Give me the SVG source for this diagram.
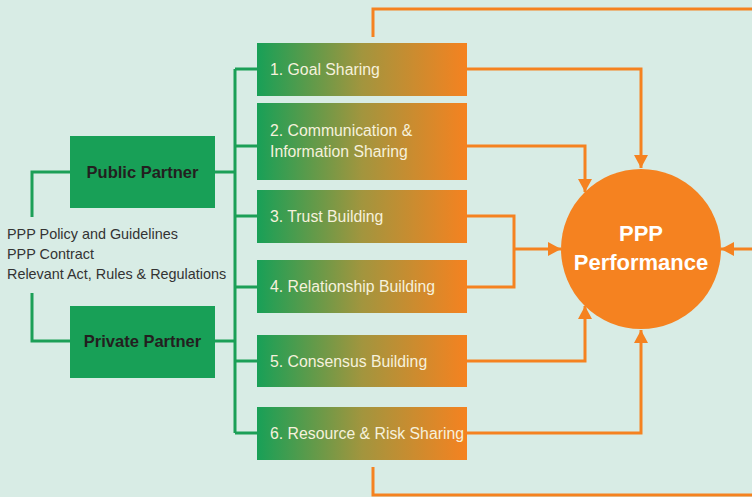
<svg xmlns="http://www.w3.org/2000/svg" width="752" height="497" viewBox="0 0 752 497">
<style>
.bg{fill:#d8ece5}
.g{stroke:#1b9f57;stroke-width:3;fill:none}
.o{stroke:#f58220;stroke-width:3;fill:none}
.oa{stroke:#f58220;stroke-width:3;fill:none;marker-end:url(#ah)}
.box{fill:url(#grad)}
.pbox{fill:#18a057}
.bt{font-family:"Liberation Sans",Arial,sans-serif;font-size:15.8px;fill:#f6f1dc}
.pt{font-family:"Liberation Sans",Arial,sans-serif;font-size:16.5px;font-weight:bold;fill:#231f20;text-anchor:middle}
.lt{font-family:"Liberation Sans",Arial,sans-serif;font-size:14.4px;fill:#333333}
.ct{font-family:"Liberation Sans",Arial,sans-serif;font-size:22px;font-weight:bold;fill:#ffffff;text-anchor:middle}
</style>
<defs>
<linearGradient id="grad" x1="0" y1="0" x2="1" y2="0">
<stop offset="0" stop-color="#18a057"/>
<stop offset="0.5" stop-color="#a2953e"/>
<stop offset="1" stop-color="#f58220"/>
</linearGradient>
<marker id="ah" markerUnits="userSpaceOnUse" markerWidth="14" markerHeight="14" viewBox="0 0 14 14" refX="13" refY="7" orient="auto">
<path d="M0,0 L13,7 L0,14 Z" fill="#f58220"/>
</marker>
</defs>
<rect class="bg" x="0" y="0" width="752" height="497"/>
<g id="connectors">
<path class="g" d="M235,69 V433"/>
<path class="g" d="M235,69 H257 M235,146 H257 M235,216 H257 M235,287 H257 M235,361 H257 M235,433 H257"/>
<path class="g" d="M215,172 H235 M215,341 H235"/>
<path class="g" d="M70,172 H32 V217 M32,293 V341 H70"/>
<path class="oa" d="M467,69 H641 V168"/>
<path class="oa" d="M467,146 H585 V192"/>
<path class="o" d="M467,216 H514 V287 H467"/>
<path class="oa" d="M514,249 H561"/>
<path class="oa" d="M467,361 H585 V306"/>
<path class="oa" d="M467,433 H641 V330"/>
<path class="o" d="M373,37 V9 H752"/>
<path class="o" d="M373,467 V495 H752"/>
<path class="oa" d="M752,249 H721"/>
</g>
<g id="public-partner">
<rect class="pbox" x="70" y="136" width="145" height="72"/>
<text class="pt" x="142.5" y="177.5">Public Partner</text>
</g>
<g id="private-partner">
<rect class="pbox" x="70" y="306" width="145" height="72"/>
<text class="pt" x="142.5" y="346.5">Private Partner</text>
</g>
<g id="framework-text">
<text class="lt" x="7" y="239">PPP Policy and Guidelines</text>
<text class="lt" x="7" y="259">PPP Contract</text>
<text class="lt" x="7" y="279">Relevant Act, Rules &amp; Regulations</text>
</g>
<g id="goal-sharing">
<rect class="box" x="257" y="43" width="210" height="53"/>
<text class="bt" x="270" y="75">1. Goal Sharing</text>
</g>
<g id="communication">
<rect class="box" x="257" y="103" width="210" height="77"/>
<text class="bt" x="270" y="136">2. Communication &amp;</text>
<text class="bt" x="270" y="157">Information Sharing</text>
</g>
<g id="trust-building">
<rect class="box" x="257" y="190" width="210" height="53"/>
<text class="bt" x="270" y="222">3. Trust Building</text>
</g>
<g id="relationship-building">
<rect class="box" x="257" y="260" width="210" height="53"/>
<text class="bt" x="270" y="292">4. Relationship Building</text>
</g>
<g id="consensus-building">
<rect class="box" x="257" y="335" width="210" height="52"/>
<text class="bt" x="270" y="367">5. Consensus Building</text>
</g>
<g id="resource-risk-sharing">
<rect class="box" x="257" y="407" width="210" height="53"/>
<text class="bt" x="270" y="439">6. Resource &amp; Risk Sharing</text>
</g>
<g id="ppp-performance">
<circle cx="641" cy="249" r="80" fill="#f58220"/>
<text class="ct" x="641" y="241">PPP</text>
<text class="ct" x="641" y="270">Performance</text>
</g>
</svg>
